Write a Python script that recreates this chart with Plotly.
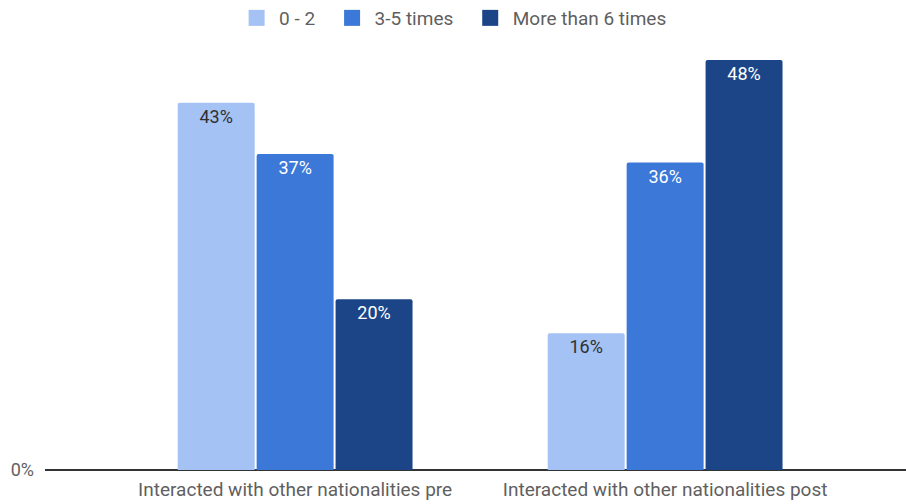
import plotly.graph_objects as go

categories = ["Interacted with other nationalities pre", "Interacted with other nationalities post"]
series_names = ["0 - 2", "3-5 times", "More than 6 times"]
values_0_2 = [0.43, 0.16]
values_3_5 = [0.37, 0.36]
values_6_plus = [0.20, 0.48]

colors = ["#a4c2f4", "#3c78d8", "#1c4587"]
text_colors = ["#303030", "#ffffff", "#ffffff"]
# extra trailing space after each legend entry
legend_pad = ["\u00a0\u00a0", "\u00a0\u00a0", ""]

fig = go.Figure()
for name, vals, col, tcol in zip(series_names, [values_0_2, values_3_5, values_6_plus], colors, text_colors):
    fig.add_trace(go.Bar(
        x=categories,
        y=vals,
        name=name,
        showlegend=False,
        marker=dict(color=col, line=dict(width=0)),
        text=[f"{round(v * 100)}%" for v in vals],
        textposition="inside",
        insidetextanchor="end",
        textangle=0,
        textfont=dict(color=tcol, size=18, family="Roboto"),
        cliponaxis=False,
    ))

# square legend swatches
for name, col, pad in zip(series_names, colors, legend_pad):
    fig.add_trace(go.Scatter(
        x=[None], y=[None],
        mode="markers",
        name=name + pad,
        marker=dict(symbol="square", size=17, color=col),
        showlegend=True,
    ))

fig.update_layout(
    width=906,
    height=504,
    margin=dict(l=45, r=0, t=43, b=34, autoexpand=False),
    paper_bgcolor="white",
    plot_bgcolor="white",
    barmode="group",
    bargap=0.36,
    bargroupgap=0.025,
    barcornerradius=2,
    font=dict(family="Roboto", color="#5f5f5f"),
    uniformtext=dict(mode="show", minsize=18),
    legend=dict(
        orientation="h",
        x=0.474, xanchor="center",
        y=1.103, yanchor="top",
        font=dict(size=19, color="#5f5f5f"),
        itemwidth=35,
        traceorder="normal",
    ),
    xaxis=dict(
        range=[-0.676, 1.651],
        showgrid=False,
        showline=False,
        ticks="",
        tickfont=dict(size=19, color="#5f5f5f"),
        ticklabelstandoff=6,
    ),
    yaxis=dict(
        range=[0, 0.5],
        tickvals=[0],
        tickformat=".0%",
        showgrid=False,
        zeroline=True,
        zerolinecolor="#333333",
        zerolinewidth=2,
        showline=False,
        tickfont=dict(size=18, color="#5f5f5f"),
        ticklabelstandoff=10,
    ),
)

fig.write_html("out.html")
